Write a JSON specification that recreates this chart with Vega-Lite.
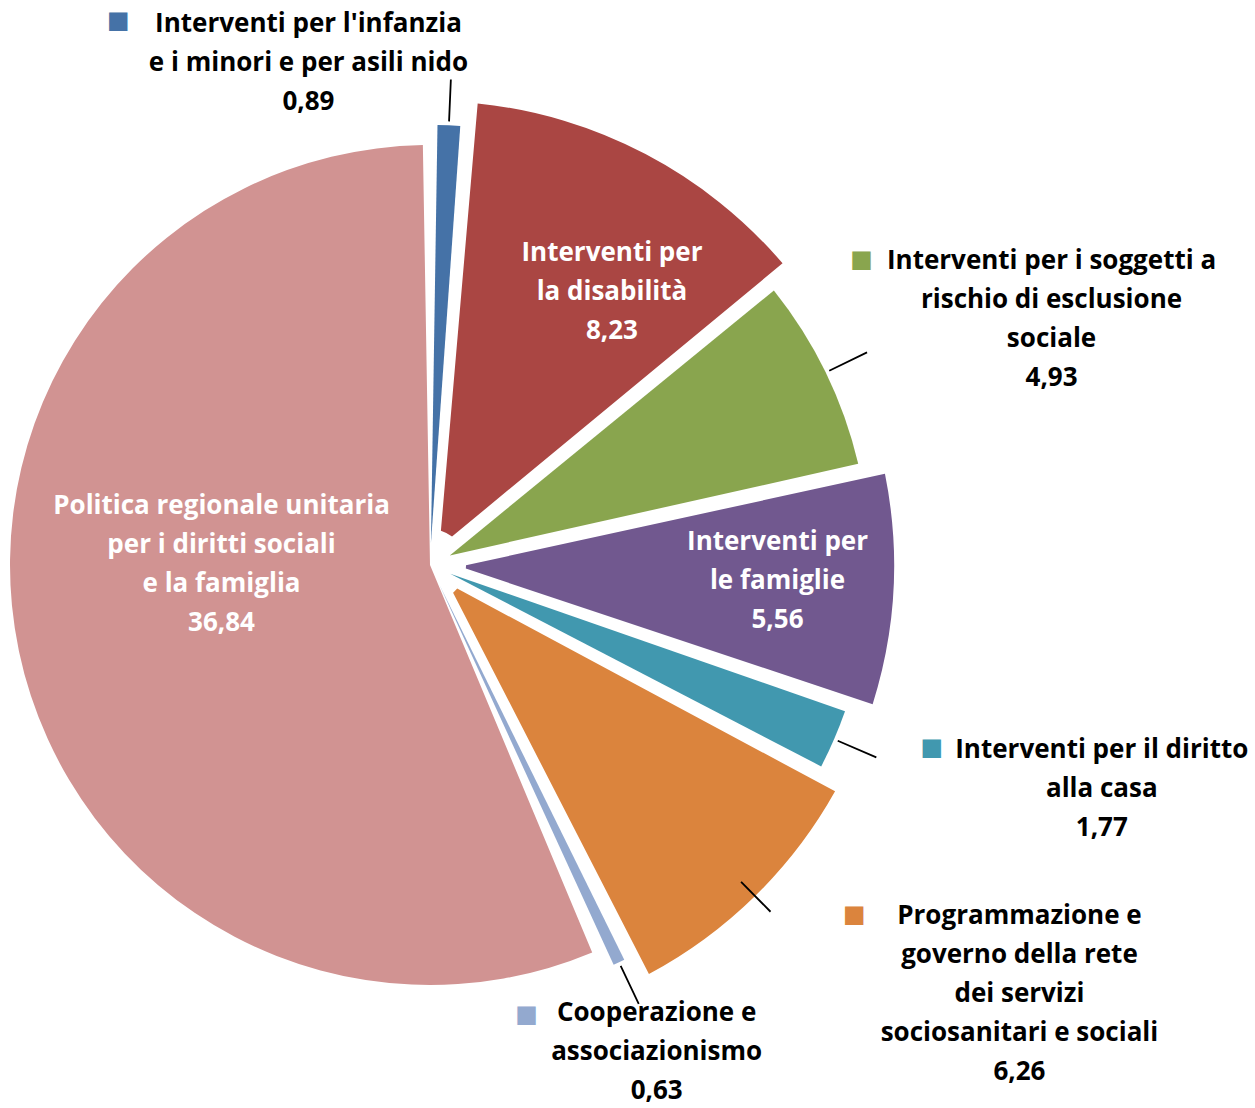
{
  "$schema": "https://vega.github.io/schema/vega-lite/v6.json",
  "width": 860,
  "height": 1086,
  "autosize": "none",
  "padding": {"left": 0, "top": 22, "right": 395, "bottom": 0},
  "background": "white",
  "config": {
    "view": {"stroke": null},
    "text": {"font": "Open Sans", "fontWeight": "bold", "fontSize": 26, "lineHeight": 39, "lineBreak": "\n", "align": "center", "baseline": "middle"}
  },
  "data": {"values": [
    {"idx": 1, "id": "inf", "value": 0.89, "label": "Interventi per l'infanzia\ne  i minori e per asili nido\n0,89"},
    {"idx": 2, "id": "dis", "value": 8.23, "label": "Interventi per\nla disabilità\n8,23"},
    {"idx": 3, "id": "sog", "value": 4.93, "label": "Interventi per i soggetti a\nrischio di esclusione\nsociale\n4,93"},
    {"idx": 4, "id": "fam", "value": 5.56, "label": "Interventi  per\nle famiglie\n5,56"},
    {"idx": 5, "id": "cas", "value": 1.77, "label": "Interventi per il diritto\nalla casa\n1,77"},
    {"idx": 6, "id": "pro", "value": 6.26, "label": "Programmazione e\ngoverno della rete\ndei servizi\nsociosanitari e sociali\n6,26"},
    {"idx": 7, "id": "coo", "value": 0.63, "label": "Cooperazione e\nassociazionismo\n0,63"},
    {"idx": 8, "id": "pol", "value": 36.84, "label": "Politica regionale unitaria\nper i diritti sociali\ne la famiglia\n36,84"}
  ]},
  "encoding": {
    "theta": {"field": "value", "type": "quantitative", "stack": true},
    "order": {"field": "idx", "type": "quantitative"},
    "detail": {"field": "id", "type": "nominal"}
  },
  "layer": [
    {
      "mark": {"type": "arc", "radius": 420, "radius2": 0, "padAngle": 0.034},
      "encoding": {
        "color": {"field": "id", "type": "nominal", "legend": null, "scale": {"domain": ["inf", "dis", "sog", "fam", "cas", "pro", "coo", "pol"], "range": ["#4572A7", "#AA4643", "#89A54E", "#71588F", "#4198AF", "#DB843D", "#93A9CF", "#D19392"]}},
        "opacity": {"condition": {"test": "datum.id === 'pol'", "value": 1}, "value": 0}
      }
    },
    {
      "mark": {"type": "arc", "radius": 440, "radius2": 22, "padAngle": 0.034},
      "encoding": {
        "color": {"field": "id", "type": "nominal", "legend": null},
        "opacity": {"condition": {"test": "indexof(['inf','sog','cas','coo'], datum.id) >= 0", "value": 1}, "value": 0}
      }
    },
    {
      "mark": {"type": "arc", "radius": 464, "radius2": 36, "padAngle": 0.034},
      "encoding": {
        "color": {"field": "id", "type": "nominal", "legend": null},
        "opacity": {"condition": {"test": "indexof(['dis','fam','pro'], datum.id) >= 0", "value": 1}, "value": 0}
      }
    },
    {
      "mark": {"type": "arc", "radius": 486, "radius2": 444, "padAngle": 1, "filled": false, "stroke": "black", "strokeWidth": 1.8},
      "encoding": {
        "strokeOpacity": {"condition": {"test": "indexof(['inf','sog','cas','pro','coo'], datum.id) >= 0", "value": 1}, "value": 0}
      }
    },
    {
      "mark": {"type": "text", "radius": 500, "dx": -143, "dy": -41, "color": "black"},
      "encoding": {"text": {"field": "label"}, "opacity": {"condition": {"test": "datum.id === 'inf'", "value": 1}, "value": 0}}
    },
    {
      "mark": {"type": "text", "radius": 310, "dx": 38, "dy": -37, "color": "white"},
      "encoding": {"text": {"field": "label"}, "opacity": {"condition": {"test": "datum.id === 'dis'", "value": 1}, "value": 0}}
    },
    {
      "mark": {"type": "text", "radius": 600, "dx": 82, "dy": -41, "color": "black"},
      "encoding": {"text": {"field": "label"}, "opacity": {"condition": {"test": "datum.id === 'sog'", "value": 1}, "value": 0}}
    },
    {
      "mark": {"type": "text", "radius": 348, "dx": 0, "dy": -42, "color": "white"},
      "encoding": {"text": {"field": "label"}, "opacity": {"condition": {"test": "datum.id === 'fam'", "value": 1}, "value": 0}}
    },
    {
      "mark": {"type": "text", "radius": 700, "dx": 29, "dy": -92, "color": "black"},
      "encoding": {"text": {"field": "label"}, "opacity": {"condition": {"test": "datum.id === 'cas'", "value": 1}, "value": 0}}
    },
    {
      "mark": {"type": "text", "radius": 650, "dx": 134, "dy": -113, "color": "black"},
      "encoding": {"text": {"field": "label"}, "opacity": {"condition": {"test": "datum.id === 'pro'", "value": 1}, "value": 0}}
    },
    {
      "mark": {"type": "text", "radius": 544, "dx": -7, "dy": -43, "color": "black"},
      "encoding": {"text": {"field": "label"}, "opacity": {"condition": {"test": "datum.id === 'coo'", "value": 1}, "value": 0}}
    },
    {
      "mark": {"type": "text", "radius": 213, "dx": 0, "dy": -103, "color": "white"},
      "encoding": {"text": {"field": "label"}, "opacity": {"condition": {"test": "datum.id === 'pol'", "value": 1}, "value": 0}}
    },
    {
      "mark": {"type": "text", "text": "■", "font": "DejaVu Sans", "fontWeight": "normal", "fontSize": 24, "radius": 500, "dx": -333, "dy": -44},
      "encoding": {"color": {"field": "id", "type": "nominal", "legend": null}, "opacity": {"condition": {"test": "datum.id === 'inf'", "value": 1}, "value": 0}}
    },
    {
      "mark": {"type": "text", "text": "■", "font": "DejaVu Sans", "fontWeight": "normal", "fontSize": 24, "radius": 600, "dx": -108, "dy": -42},
      "encoding": {"color": {"field": "id", "type": "nominal", "legend": null}, "opacity": {"condition": {"test": "datum.id === 'sog'", "value": 1}, "value": 0}}
    },
    {
      "mark": {"type": "text", "text": "■", "font": "DejaVu Sans", "fontWeight": "normal", "fontSize": 24, "radius": 700, "dx": -141, "dy": -94},
      "encoding": {"color": {"field": "id", "type": "nominal", "legend": null}, "opacity": {"condition": {"test": "datum.id === 'cas'", "value": 1}, "value": 0}}
    },
    {
      "mark": {"type": "text", "text": "■", "font": "DejaVu Sans", "fontWeight": "normal", "fontSize": 24, "radius": 650, "dx": -31, "dy": -114},
      "encoding": {"color": {"field": "id", "type": "nominal", "legend": null}, "opacity": {"condition": {"test": "datum.id === 'pro'", "value": 1}, "value": 0}}
    },
    {
      "mark": {"type": "text", "text": "■", "font": "DejaVu Sans", "fontWeight": "normal", "fontSize": 24, "radius": 544, "dx": -137, "dy": -41},
      "encoding": {"color": {"field": "id", "type": "nominal", "legend": null}, "opacity": {"condition": {"test": "datum.id === 'coo'", "value": 1}, "value": 0}}
    }
  ]
}
